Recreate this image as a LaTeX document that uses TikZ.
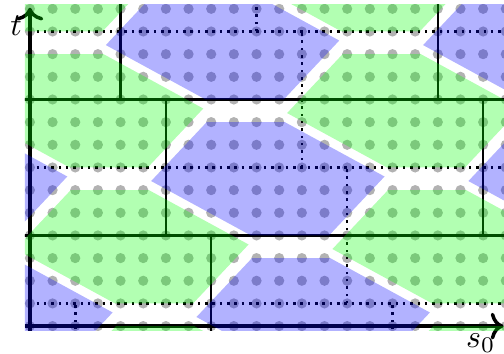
\documentclass[tikz,border=0pt]{standalone}
\usetikzlibrary{arrows.meta}
\begin{document}
\begin{tikzpicture}[x=0.25cm,y=0.25cm,>=To,
  brick/.style={line width=0.8pt},
  dotbrick/.style={line width=0.8pt,dash pattern=on 0.8pt off 1.5pt},
  latticept/.style={fill=black,opacity=0.3},
  tile/.style={fill=#1,opacity=0.3}]
 \useasboundingbox (-1.32,-1.22) rectangle (20.92,14.39);
 \begin{scope}
 \clip (-0.22,-0.2) rectangle (20.92,14.2);
 \foreach \i in {-1,...,21}
  \foreach \j in {-1,...,15}
   \fill[latticept] (\i,\j) circle (1.6pt);
 \foreach \k in {-1,...,2} {
  \draw[brick] (-1,{4+6*\k})--(22,{4+6*\k});
  \draw[dotbrick] (-1,{1+6*\k})--(22,{1+6*\k});
  \foreach \j in {-1,0,1} {
   \draw[brick] ({8-2*\k+14*\j},{-2+6*\k})--++(0,6);
   \draw[dotbrick] ({14-2*\k+14*\j},{1+6*\k})--++(0,6);
  }
 }
 \end{scope}
 \draw[line width=1.1pt,->] (-0.22,0)--(20.9,0) node[below left,inner sep=2pt] (slab) {$s_0$};
 \draw[line width=1.1pt,->] (0,-0.2)--(0,14.05) node[below left,inner sep=2pt] (tlab) {$t$};
 \begin{scope}
 \clip (-0.22,-0.2) rectangle (20.92,14.2);
 \foreach \m in {-4,...,4}
  \foreach \n in {-3,...,3} {
   \pgfmathsetmacro\cs{10.5+6*\m+2*\n}
   \pgfmathsetmacro\ct{6.5+3*\m-6*\n}
   \ifodd\m\relax\def\tilecol{green}\else\def\tilecol{blue}\fi
   \fill[tile=\tilecol,shift={(\cs,\ct)}] (-2.7,2.5)--(0.75,2.5)--(5.15,0.1)--(2.7,-2.5)--(-0.75,-2.5)--(-5.15,-0.1)--cycle;
  }
 \end{scope}
\end{tikzpicture}
\end{document}
